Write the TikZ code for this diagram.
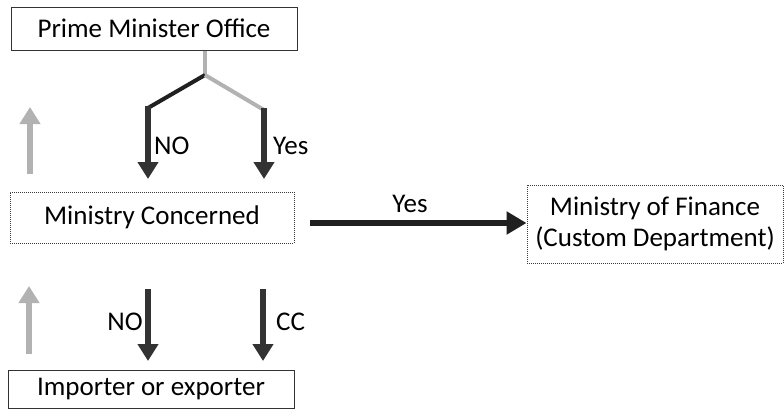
\documentclass[tikz,border=0pt]{standalone}
\usepackage{fontspec}
\setmainfont{Carlito}
\usetikzlibrary{arrows.meta}
\begin{document}
\begin{tikzpicture}[x=1pt,y=1pt,
  box/.style={draw=gray!40!black, line width=1pt, rectangle, inner sep=0pt, font=\fontsize{27}{31}\selectfont, align=center},
  dbox/.style={box, draw=gray!45!black, densely dotted, line width=0.9pt},
  bigarrow/.style={draw=gray!40!black, line width=6pt, -{Triangle[width=20pt,length=17pt]}},
  uparrow/.style={bigarrow, draw=gray!60},
  branch/.style={draw=gray!25!black, line width=4pt},
  lbl/.style={font=\fontsize{27}{31}\selectfont, inner sep=0pt}]
\useasboundingbox (0,0) rectangle (784,-415);
% boxes
\node[box, minimum width=286pt, minimum height=43pt] (pmo) at (154,-28.5) {Prime Minister Office};
\node[dbox, minimum width=284pt, minimum height=51pt] (mc) at (152,-217.5) {Ministry Concerned};
\node[dbox, minimum width=256pt, minimum height=78pt] (mof) at (655,-224) {Ministry of Finance\\(Custom Department)};
\node[box, minimum width=286pt, minimum height=38pt] (imp) at (151,-389) {Importer or exporter};
% fork from PMO
\coordinate (top) at (205,-50);
\coordinate (j) at (205,-75);
\coordinate (bl) at (148,-108);
\coordinate (br) at (264,-110);
\coordinate (tl) at (148,-179);
\coordinate (tr) at (264,-179);
\draw[branch, draw=gray!60, line width=3.5pt] (pmo.south -| top) -- (j);
\draw[branch, line join=round] (j) -- (bl);
\draw[branch, draw=gray!60, line join=round] (j) -- (br);
\draw[bigarrow] ([yshift=2pt]bl) -- (tl);
\draw[bigarrow] ([yshift=2pt]br) -- (tr);
\node[lbl, anchor=west] (no1) at (154,-146) {NO};
\node[lbl, anchor=west] (yes1) at (273,-146) {Yes};
% upper up arrow
\coordinate (u1a) at (30,-174);
\coordinate (u1b) at (30,-107);
\draw[uparrow] (u1a) -- (u1b);
% horizontal arrow
\coordinate (hs) at (310,-223);
\draw[bigarrow, draw=gray!25!black, -{Triangle[width=22pt,length=20pt]}] (hs) -- (hs -| mof.west);
\node[lbl] (yes2) at (410,-204) {Yes};
% lower arrows
\coordinate (d1a) at (148,-289);
\coordinate (d1b) at (148,-361);
\coordinate (d2a) at (263,-289);
\coordinate (d2b) at (263,-361);
\draw[bigarrow] (d1a) -- (d1b);
\draw[bigarrow] (d2a) -- (d2b);
\node[lbl, anchor=east] (no2) at (143,-322) {NO};
\node[lbl, anchor=west] (cc) at (276,-322) {CC};
\coordinate (u2a) at (29,-354);
\coordinate (u2b) at (29,-286);
\draw[uparrow] (u2a) -- (u2b);
\end{tikzpicture}
\end{document}
